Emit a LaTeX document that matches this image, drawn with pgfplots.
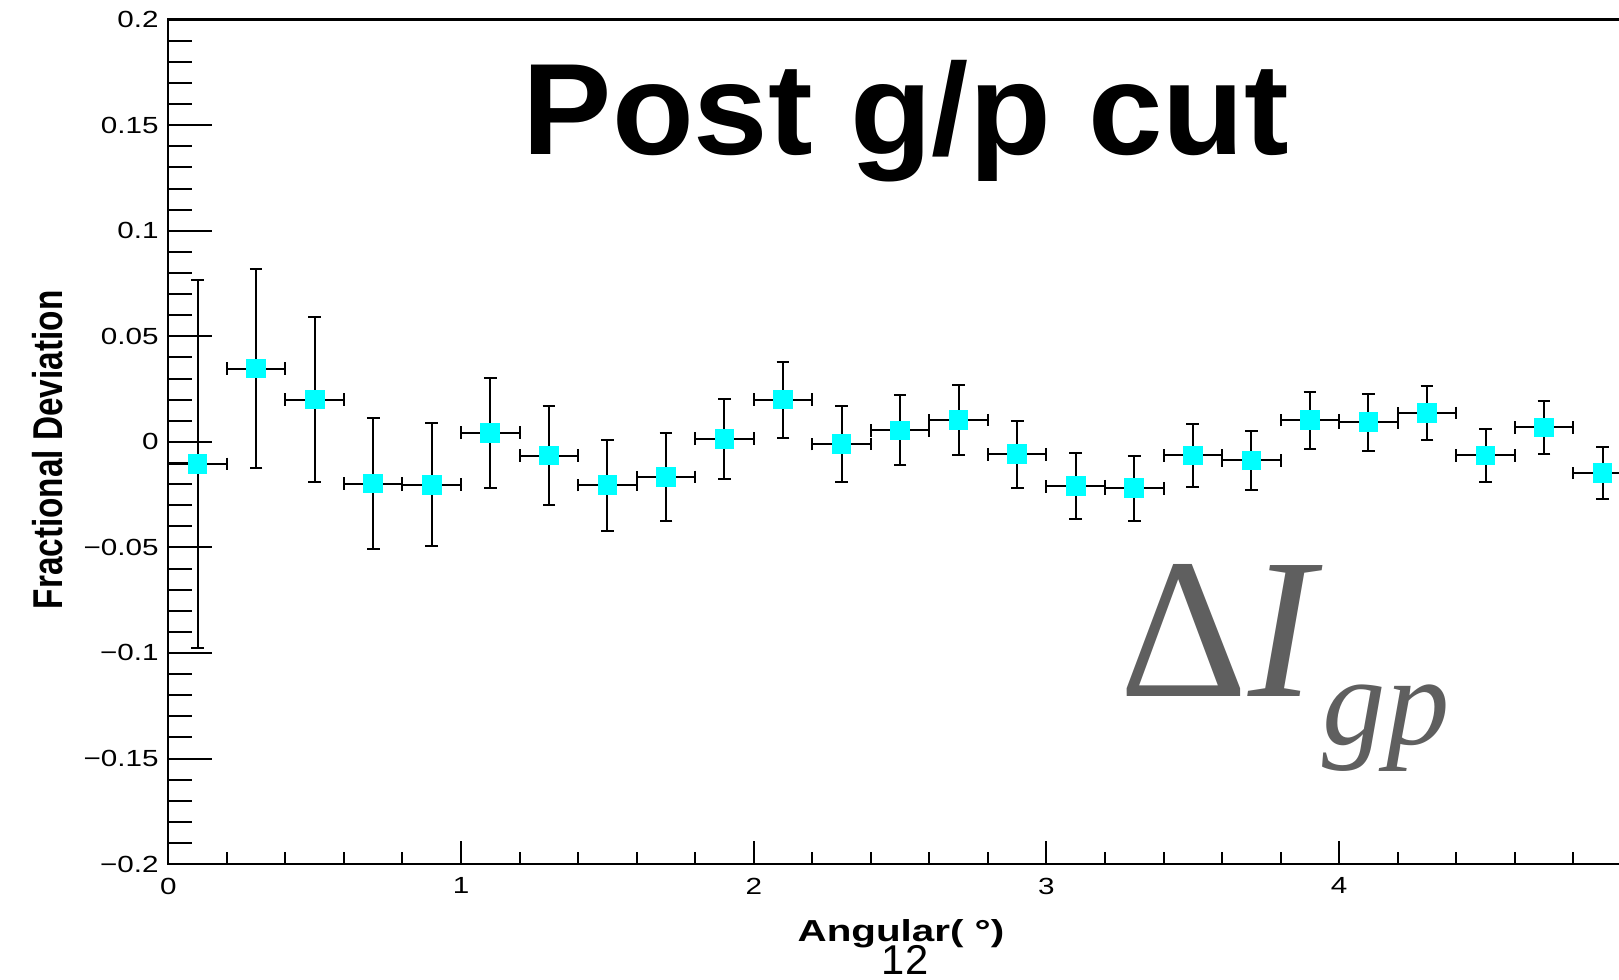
\documentclass[border=0pt]{standalone}
\usepackage{pgfplots}
\usepackage{pgfplotstable}
\pgfplotsset{compat=1.18}
\usepackage{fontspec}
\setmainfont{Liberation Sans}
\newfontfamily\tickfont[FakeStretch=1.27]{Liberation Sans}
\newfontfamily\xlabfont[FakeStretch=1.33]{Liberation Sans}
\newfontfamily\ylabfont[FakeStretch=0.8]{Liberation Sans}
\newfontfamily\titlefont[FakeStretch=1.03]{Liberation Sans}
\newfontfamily\serifont{Liberation Serif}
\definecolor{rootcyan}{RGB}{0,255,255}
\definecolor{deltagray}{RGB}{95,95,95}

\pgfplotstableread{
x y ex ey
0.1 -0.0105 0.1 0.087
0.3 0.0347 0.1 0.047
0.5 0.0200 0.1 0.039
0.7 -0.0198 0.1 0.031
0.9 -0.0203 0.1 0.029
1.1 0.0043 0.1 0.026
1.3 -0.0065 0.1 0.0235
1.5 -0.0205 0.1 0.0215
1.7 -0.0166 0.1 0.021
1.9 0.0015 0.1 0.019
2.1 0.0200 0.1 0.018
2.3 -0.0010 0.1 0.018
2.5 0.0054 0.1 0.0166
2.7 0.0103 0.1 0.0165
2.9 -0.0059 0.1 0.016
3.1 -0.0210 0.1 0.0155
3.3 -0.0220 0.1 0.0155
3.5 -0.0064 0.1 0.015
3.7 -0.0088 0.1 0.014
3.9 0.0103 0.1 0.0135
4.1 0.0093 0.1 0.0135
4.3 0.0137 0.1 0.0127
4.5 -0.0064 0.1 0.0125
4.7 0.0068 0.1 0.0125
4.9 -0.0147 0.1 0.0123
}\data

\begin{document}
\begin{tikzpicture}
% x ticks (shorter) drawn by a second, bare axis
\begin{axis}[
  scale only axis, width=447.8pt, height=253.3pt,
  xmin=0, xmax=5.1, ymin=-0.2, ymax=0.2,
  axis line style={draw=none},
  ytick=\empty,
  xtick={0,1,2,3,4,5}, xticklabels={},
  minor x tick num=4,
  tick align=inside, xtick pos=bottom,
  major tick length=6.9pt, minor tick length=3.75pt,
  tick style={line width=0.6pt, black},
]
\end{axis}
\begin{axis}[
  scale only axis, width=447.8pt, height=253.3pt,
  xmin=0, xmax=5.1, ymin=-0.2, ymax=0.2,
  axis line style={line width=0.7pt, black},
  xtick={0,1,2,3,4}, xticklabels={0,1,2,3,4},
  ytick={-0.2,-0.15,-0.1,-0.05,0,0.05,0.1,0.15,0.2},
  yticklabels={−0.2,−0.15,−0.1,−0.05,0,0.05,0.1,0.15,0.2},
  minor y tick num=4,
  tick align=inside, xtick pos=bottom, ytick pos=left,
  major tick length=13.2pt, minor tick length=7.2pt,
  major x tick style={draw=none}, minor x tick style={draw=none},
  tick style={line width=0.6pt, black},
  xticklabel style={font=\tickfont\fontsize{7}{8}\selectfont, anchor=north, inner sep=0pt, yshift=-3.9pt},
  yticklabel style={font=\tickfont\fontsize{7}{8}\selectfont, anchor=east, inner sep=0pt, xshift=-2.7pt},
  clip=false,
]
\addplot[only marks, mark=square*, mark size=2.75pt,
  mark options={fill=rootcyan, draw=rootcyan},
  error bars/.cd, x dir=both, x explicit, y dir=both, y explicit,
  error bar style={line width=0.6pt, black},
  error mark=-,
  error mark options={black, line width=0.6pt, mark size=1.9pt, rotate=90}]
  table[x=x, y=y, x error=ex, y error=ey]{\data};

\node[anchor=base, font=\titlefont\bfseries\fontsize{39}{40}\selectfont] at (axis cs:2.52,0.136) {Post g/p cut};
\node[anchor=base west, inner sep=0pt, text=deltagray, font=\serifont\fontsize{60}{60}\selectfont] at (axis cs:3.248,-0.1207) {Δ\textit{I}\raisebox{-14.4pt}{\fontsize{38}{38}\selectfont\textit{gp}}};
\node[anchor=base, font=\xlabfont\bfseries\fontsize{9.1}{10}\selectfont] at (axis cs:2.503,-0.2366) {Angular( °)};
\node[anchor=base, font=\fontsize{12.5}{13}\selectfont] at (axis cs:2.517,-0.2524) {12};
\node[xshift=-36.1pt, rotate=90, anchor=center, font=\ylabfont\bfseries\fontsize{12.5}{13}\selectfont] at (axis cs:0,-0.0038) {Fractional Deviation};

\coordinate (bbll) at (axis cs:-0.575,-0.2547);
\coordinate (bbur) at (axis cs:4.956,0.2093);
\end{axis}
\pgfresetboundingbox
\useasboundingbox (bbll) rectangle (bbur);
\end{tikzpicture}
\end{document}
